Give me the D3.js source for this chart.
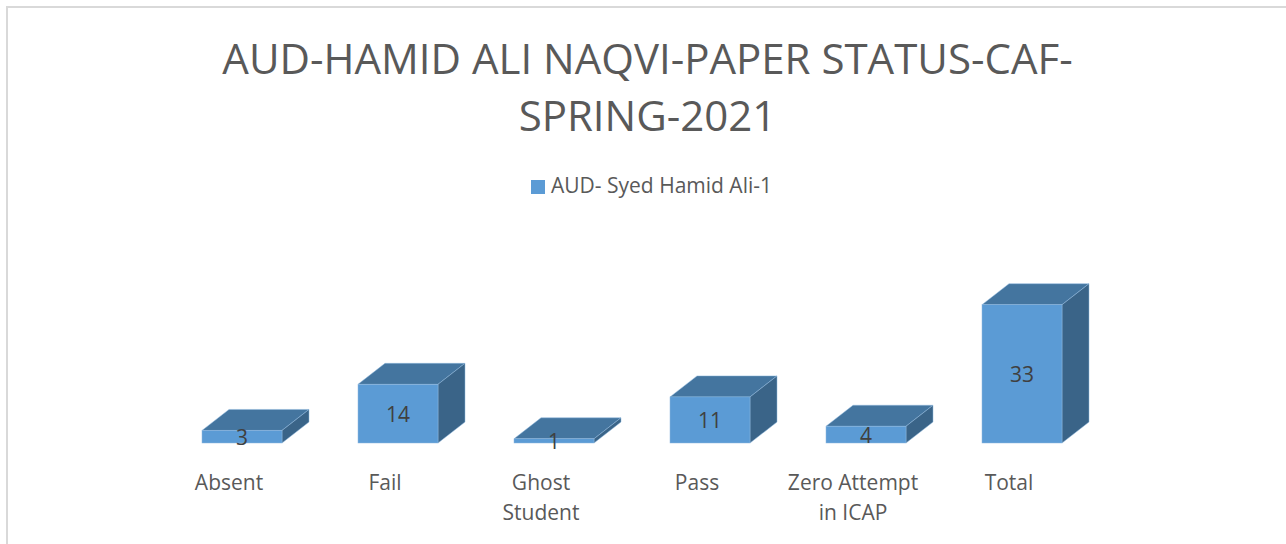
<!DOCTYPE html>
<html>
<head>
<meta charset="utf-8">
<script src="https://cdn.jsdelivr.net/npm/d3@7"></script>
<style>
  html, body { margin: 0; padding: 0; background: #fff; overflow: hidden; }
  text { font-family: "Open Sans", sans-serif; }
</style>
</head>
<body>
<div id="chart"></div>
<script>
const titleLines = ["AUD-HAMID ALI NAQVI-PAPER STATUS-CAF-", "SPRING-2021"];
const seriesName = "AUD- Syed Hamid Ali-1";
const categories = ["Absent", "Fail", "Ghost\nStudent", "Pass", "Zero Attempt\nin ICAP", "Total"];
const values = [3, 14, 1, 11, 4, 33];

const width = 1286, height = 544;
const baseY = 443;
const depthX = 27, depthY = 21; // decalage de la 3D

const svg = d3.select("#chart").append("svg")
    .attr("width", width)
    .attr("height", height)
    .style("display", "block");

// Cadre (coupe a droite et en bas)
svg.append("rect")
    .attr("x", 7).attr("y", 7)
    .attr("width", width + 20).attr("height", height + 20)
    .attr("fill", "#fff")
    .attr("stroke", "#d9d9d9")
    .attr("stroke-width", 2);

// Titre
svg.append("g").selectAll("text")
    .data(titleLines)
    .enter().append("text")
    .attr("x", 647.5)
    .attr("y", (d, i) => 73.5 + i * 57)
    .attr("text-anchor", "middle")
    .style("font-size", "42px")
    .style("fill", "#595959")
    .text(d => d);

// Legende
svg.append("rect")
    .attr("x", 531).attr("y", 180)
    .attr("width", 14).attr("height", 14)
    .attr("fill", "#5b9bd5");
svg.append("text")
    .attr("x", 551).attr("y", 193)
    .style("font-size", "21px")
    .style("fill", "#595959")
    .text(seriesName);

// Echelles
const x = d3.scaleBand()
    .domain(categories)
    .range([164, 1100])
    .paddingInner(76 / 156)
    .paddingOuter(38 / 156);

const y = d3.scaleLinear()
    .domain([0, 33])
    .range([baseY, 304.7]);

// Barres 3D
const bars = svg.append("g").selectAll("g")
    .data(categories.map((c, i) => ({ cat: c, value: values[i] })))
    .enter().append("g");

const bw = x.bandwidth();
const edge = "#8fb8de";

// face du dessus
bars.append("path")
    .attr("d", d => {
        const l = x(d.cat), t = y(d.value);
        return `M${l},${t}L${l + depthX},${t - depthY}L${l + bw + depthX},${t - depthY}L${l + bw},${t}Z`;
    })
    .attr("fill", "#44759f")
    .attr("stroke", edge)
    .attr("stroke-width", 0.5);

// face de droite
bars.append("path")
    .attr("d", d => {
        const r = x(d.cat) + bw, t = y(d.value);
        return `M${r},${t}L${r + depthX},${t - depthY}L${r + depthX},${baseY - depthY}L${r},${baseY}Z`;
    })
    .attr("fill", "#3a6488")
    .attr("stroke", edge)
    .attr("stroke-width", 0.5);

// face avant
bars.append("rect")
    .attr("x", d => x(d.cat))
    .attr("y", d => y(d.value))
    .attr("width", bw)
    .attr("height", d => baseY - y(d.value))
    .attr("fill", "#5b9bd5")
    .attr("stroke", edge)
    .attr("stroke-width", 0.5);

// Valeurs
bars.append("text")
    .attr("x", d => x(d.cat) + bw / 2)
    .attr("y", d => (y(d.value) + baseY) / 2 + 8)
    .attr("text-anchor", "middle")
    .style("font-size", "21px")
    .style("fill", "#404040")
    .text(d => d.value);

// Axe X sans ligne, labels sur deux lignes
const axis = svg.append("g")
    .attr("transform", `translate(-13,${baseY + 47})`)
    .call(d3.axisBottom(x).tickSize(0).tickPadding(0));

axis.select(".domain").remove();

axis.selectAll(".tick text").each(function(d) {
    const t = d3.select(this);
    t.text(null)
        .attr("y", 0).attr("dy", null)
        .style("font-size", "21px")
        .style("font-family", '"Open Sans", sans-serif')
        .style("fill", "#595959");
    d.split("\n").forEach((line, i) => {
        t.append("tspan")
            .attr("x", 0)
            .attr("y", i * 30)
            .text(line);
    });
});
</script>
</body>
</html>
